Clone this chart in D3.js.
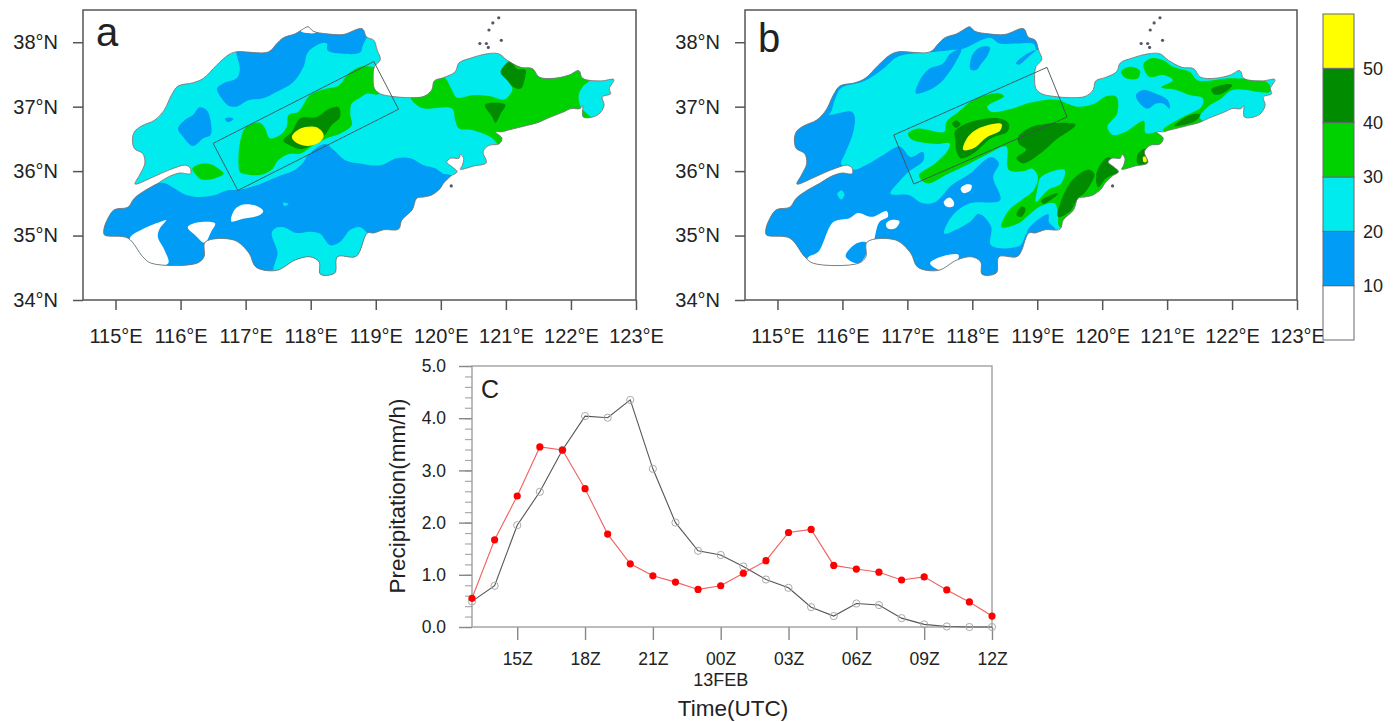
<!DOCTYPE html>
<html>
<head>
<meta charset="utf-8">
<script src="https://cdn.jsdelivr.net/npm/d3@7"></script>
<style>
    body { margin: 0; background: #fff; }
    text { font-family: "Liberation Sans", Arial, sans-serif; fill: #222; }
</style>
</head>
<body>
<svg id="chart" width="1395" height="722"></svg>
<script>
// province boundary, lon/lat
var provinceOutline = [[114.82,35.09],[114.87,35.24],[114.98,35.40],[115.19,35.44],[115.29,35.58],[115.47,35.71],[115.65,35.81],[115.81,35.91],[115.99,35.97],[116.15,35.96],[116.15,36.04],[116.08,36.09],[115.83,36.02],[115.58,35.91],[115.30,35.80],[115.37,35.94],[115.45,36.12],[115.42,36.27],[115.29,36.35],[115.26,36.48],[115.29,36.61],[115.40,36.70],[115.60,36.79],[115.75,36.95],[115.86,37.18],[115.96,37.32],[116.19,37.37],[116.35,37.44],[116.55,37.64],[116.73,37.80],[116.85,37.85],[117.35,37.85],[117.48,37.98],[117.58,38.07],[117.76,38.13],[117.89,38.21],[117.96,38.24],[118.04,38.17],[118.25,38.13],[118.50,38.12],[118.79,38.21],[118.86,38.08],[118.97,38.03],[119.02,37.88],[119.07,37.73],[118.98,37.62],[118.96,37.46],[118.98,37.28],[119.07,37.20],[119.25,37.16],[119.53,37.14],[119.74,37.16],[119.86,37.26],[119.90,37.40],[120.04,37.45],[120.22,37.54],[120.28,37.68],[120.45,37.75],[120.71,37.82],[120.89,37.82],[121.02,37.72],[121.23,37.61],[121.41,37.59],[121.51,37.46],[121.74,37.44],[121.97,37.49],[122.12,37.56],[122.18,37.44],[122.46,37.40],[122.66,37.42],[122.59,37.28],[122.61,37.20],[122.48,37.15],[122.51,37.02],[122.41,36.87],[122.19,36.84],[122.18,37.02],[122.14,36.97],[122.00,36.97],[121.89,36.92],[121.64,36.82],[121.51,36.76],[121.33,36.71],[121.05,36.64],[120.94,36.61],[120.84,36.61],[120.94,36.51],[120.89,36.42],[120.74,36.40],[120.65,36.30],[120.70,36.13],[120.51,36.08],[120.30,36.03],[120.33,36.09],[120.35,36.20],[120.30,36.26],[120.28,36.20],[120.15,36.20],[120.09,36.14],[120.17,36.07],[120.25,35.99],[120.15,35.92],[120.04,35.81],[119.99,35.73],[119.86,35.63],[119.74,35.60],[119.63,35.58],[119.56,35.40],[119.40,35.24],[119.35,35.10],[119.12,35.09],[118.97,35.04],[118.87,35.04],[118.70,34.68],[118.41,34.67],[118.37,34.42],[118.15,34.40],[118.13,34.59],[117.99,34.67],[117.76,34.62],[117.48,34.46],[117.16,34.51],[117.05,34.73],[116.82,34.93],[116.38,34.90],[116.36,34.67],[116.25,34.57],[115.55,34.57],[115.42,34.67],[115.19,34.96],[114.83,35.01]];
var islands = [[120.89,38.38],[120.80,38.30],[120.74,38.19],[120.60,37.98],[120.70,37.98],[120.73,37.92],[120.93,38.03],[120.16,35.77]];

// panel a contours
var aBlueSouth = [[114.75,35.45],[115.37,35.71],[115.73,35.82],[115.86,35.76],[116.04,35.65],[116.24,35.60],[116.50,35.62],[116.71,35.70],[116.91,35.71],[117.17,35.78],[117.48,35.91],[117.76,36.02],[117.89,36.14],[117.96,36.25],[118.22,36.42],[118.35,36.33],[118.53,36.17],[118.76,36.12],[119.07,36.09],[119.32,36.20],[119.53,36.20],[119.74,36.09],[119.92,36.04],[120.04,35.96],[120.15,35.94],[120.30,35.81],[120.30,34.36],[114.60,34.30],[114.60,35.40]];
var aCyanSouth = [[117.40,35.03],[117.45,35.11],[117.58,35.13],[117.78,35.04],[117.99,35.06],[118.14,35.03],[118.30,34.85],[118.45,34.90],[118.61,35.09],[118.76,35.13],[118.87,35.04],[119.00,34.90],[118.80,34.20],[117.43,34.20],[117.43,34.50],[117.49,34.73]];
var aBlueNorth = [[116.85,37.88],[116.91,37.57],[116.86,37.44],[116.65,37.36],[116.56,37.28],[116.63,37.13],[116.73,37.02],[116.86,37.00],[117.04,37.10],[117.27,37.13],[117.48,37.23],[117.73,37.38],[117.89,37.62],[117.96,37.85],[118.19,37.99],[118.25,37.98],[118.26,37.87],[118.50,37.82],[118.76,37.84],[118.80,37.95],[118.86,38.08],[118.90,38.40],[116.85,38.40]];
var aBlueWest = [[115.96,36.66],[116.06,36.79],[116.19,36.87],[116.29,36.99],[116.40,36.95],[116.46,36.79],[116.46,36.56],[116.35,36.51],[116.19,36.39],[116.04,36.53]];
var aBlueSpeck = [[116.68,36.81],[116.76,36.83],[116.81,36.81],[116.73,36.76]];
var aCyanSpeck = [[117.57,35.51],[117.66,35.49],[117.60,35.46]];
var aWhiteTop = [[117.85,38.17],[118.08,38.15],[117.96,38.30]];
var aWhiteMid = [[116.78,35.22],[116.83,35.40],[116.96,35.48],[117.17,35.46],[117.27,35.38],[117.22,35.32],[116.96,35.26]];
var aWhiteNotch = [[116.11,35.13],[116.24,35.20],[116.53,35.19],[116.47,35.06],[116.37,34.89],[116.22,35.01]];
var aWhiteSW = [[115.22,34.96],[115.42,35.10],[115.68,35.21],[115.78,35.24],[115.68,35.11],[115.65,34.98],[115.75,34.78],[115.81,34.57],[115.47,34.54],[115.27,34.78]];
var aGreenBox = [[116.91,35.99],[116.91,36.43],[117.01,36.69],[117.22,36.75],[117.30,36.66],[117.37,36.51],[117.53,36.56],[117.63,36.69],[117.66,36.87],[117.81,36.92],[117.99,37.18],[118.25,37.28],[118.43,37.33],[118.58,37.51],[118.76,37.62],[118.97,37.62],[119.05,37.62],[119.05,37.20],[118.86,37.20],[118.76,37.14],[118.63,37.05],[118.61,36.87],[118.63,36.71],[118.45,36.58],[118.25,36.51],[118.04,36.40],[117.84,36.27],[117.68,36.27],[117.50,36.17],[117.40,36.02],[117.22,35.94],[116.96,35.96]];
var aGreenSmall = [[116.18,36.04],[116.27,36.10],[116.45,36.11],[116.58,36.04],[116.66,35.96],[116.53,35.89],[116.32,35.87],[116.24,35.94]];
var aGreenEast = [[119.53,37.14],[119.71,36.98],[120.17,36.97],[120.22,36.79],[120.28,36.66],[120.51,36.63],[120.79,36.51],[120.89,36.40],[121.02,36.33],[122.36,36.74],[122.15,37.00],[122.12,37.18],[122.18,37.31],[122.30,37.42],[122.30,37.72],[121.07,37.98],[121.05,37.72],[120.92,37.54],[121.02,37.41],[121.10,37.28],[121.07,37.20],[120.97,37.11],[120.76,37.16],[120.51,37.18],[120.25,37.14],[120.17,37.26],[120.07,37.44],[119.97,37.51],[119.84,37.46],[119.53,37.26]];
var aDarkBox = [[117.58,36.47],[117.71,36.61],[117.84,36.82],[118.09,36.84],[118.27,36.96],[118.43,36.99],[118.45,36.84],[118.32,36.71],[118.22,36.56],[118.04,36.43],[117.86,36.34],[117.68,36.40]];
var aDarkNorth = [[120.92,37.54],[121.07,37.71],[121.17,37.59],[121.30,37.57],[121.28,37.39],[121.23,37.28],[121.12,37.30],[121.02,37.41]];
var aDarkWedge = [[120.68,37.03],[120.99,37.03],[120.92,36.89],[120.84,36.75],[120.79,36.84]];
var aYellow = [[117.71,36.53],[117.84,36.66],[118.09,36.68],[118.20,36.56],[118.14,36.45],[117.96,36.39],[117.78,36.44]];
var aBox = [[116.50,36.43],[116.88,35.70],[119.35,36.96],[118.97,37.70]];

// panel b contours
var bBlueTop = [[115.78,36.87],[115.88,37.10],[115.98,37.29],[116.32,37.39],[116.63,37.59],[116.86,37.78],[117.41,37.85],[117.68,37.88],[117.86,37.90],[118.27,38.07],[118.42,37.98],[118.68,37.98],[118.95,37.97],[118.99,37.88],[119.20,38.00],[119.20,38.40],[115.50,38.40],[115.00,37.00]];
var bBlueSouth = [[115.78,36.87],[116.14,36.92],[116.19,36.84],[116.16,36.58],[116.04,36.27],[115.98,36.11],[116.16,36.02],[116.41,36.12],[116.63,36.25],[116.88,36.38],[117.05,36.22],[117.24,36.30],[117.25,36.17],[117.02,35.99],[116.85,35.81],[116.74,35.65],[117.02,35.63],[117.24,35.50],[117.43,35.52],[117.68,35.78],[117.96,35.96],[118.29,36.22],[118.41,36.12],[118.32,35.91],[118.43,35.55],[117.96,35.50],[117.68,35.29],[117.57,35.03],[117.96,35.21],[118.10,35.34],[118.29,35.14],[118.29,34.85],[118.73,34.84],[118.84,35.03],[118.90,34.20],[114.60,34.20],[114.60,36.90]];
var bBlueBlob1 = [[117.13,37.21],[117.22,37.46],[117.34,37.59],[117.55,37.67],[117.66,37.82],[117.83,37.89],[117.75,37.70],[117.65,37.54],[117.52,37.38],[117.34,37.26]];
var bBlueBlob2 = [[117.97,37.58],[118.01,37.82],[118.14,37.93],[118.27,37.92],[118.22,37.77],[118.14,37.67],[118.06,37.57]];
var bBlueBlob3 = [[118.67,37.67],[118.84,37.82],[118.98,37.88],[118.84,37.75],[118.72,37.65]];
var bBlueEast = [[120.52,37.18],[120.63,37.26],[120.83,37.20],[121.01,37.10],[121.04,36.97],[120.94,37.05],[120.83,37.05],[120.70,36.97],[120.58,37.05]];
var bBlueBand = [[118.84,35.03],[118.91,35.16],[119.17,35.33],[119.18,35.21],[119.28,35.09],[119.12,34.93]];
var bCyanSpeck = [[115.92,35.65],[115.99,35.70],[116.03,35.63],[115.98,35.56]];
var bWhiteSW = [[115.47,34.66],[115.63,34.75],[115.86,35.21],[116.11,35.27],[116.24,35.35],[116.45,35.29],[116.68,35.38],[116.70,35.29],[116.57,35.21],[116.50,34.98],[116.47,34.78],[116.42,34.52],[115.45,34.49]];
var bBluePatch = [[116.05,34.68],[116.22,34.88],[116.37,34.89],[116.36,34.70],[116.24,34.57]];
var bWhite2 = [[116.67,35.18],[116.75,35.24],[116.88,35.22],[116.81,35.11],[116.70,35.11]];
var bWhite3 = [[117.82,35.73],[117.89,35.79],[117.99,35.78],[117.97,35.70],[117.86,35.66]];
var bWhite4 = [[117.56,35.52],[117.65,35.59],[117.72,35.51],[117.70,35.45],[117.60,35.45]];
var bWhite5 = [[117.35,34.57],[117.52,34.67],[117.79,34.70],[117.74,34.57],[117.52,34.46]];
var bGreenMain = [[117.01,36.58],[117.16,36.66],[117.57,36.61],[117.60,36.76],[117.79,36.92],[118.01,37.10],[118.40,37.21],[118.49,37.16],[118.23,37.00],[118.29,36.92],[118.62,36.97],[118.84,37.05],[119.28,37.11],[119.61,37.00],[119.89,37.05],[120.06,37.16],[120.22,37.15],[120.23,36.89],[120.08,36.69],[120.17,36.56],[120.36,36.61],[120.64,36.78],[120.67,36.59],[120.88,36.61],[121.02,36.53],[121.05,36.07],[119.95,35.03],[119.34,35.14],[119.32,35.29],[119.27,35.50],[119.04,35.45],[118.84,35.29],[118.73,35.20],[118.45,35.13],[118.56,35.39],[118.76,35.55],[118.95,35.71],[119.01,35.91],[118.92,36.04],[118.79,36.00],[118.56,36.02],[118.52,36.38],[118.23,36.26],[117.96,36.12],[117.63,35.96],[117.30,35.81],[117.18,35.94],[117.43,36.12],[117.63,36.33],[117.65,36.43],[117.46,36.42],[117.07,36.49]];
var bCyanHole = [[118.98,35.52],[119.01,35.76],[119.06,35.91],[119.42,36.02],[119.37,35.81],[119.17,35.71]];
var bGreenNorth = [[120.64,37.67],[120.76,37.75],[120.94,37.72],[121.09,37.62],[121.35,37.54],[121.47,37.41],[122.01,37.44],[122.55,37.37],[122.59,37.23],[122.01,37.26],[121.81,37.11],[121.63,37.00],[121.50,36.84],[121.55,36.76],[120.99,36.58],[120.94,36.64],[121.24,36.84],[121.53,37.00],[121.55,37.13],[121.35,37.18],[121.14,37.26],[120.91,37.30],[121.09,37.41],[120.94,37.49],[120.73,37.46],[120.65,37.57]];
var bGreenSmall = [[120.29,37.54],[120.42,37.62],[120.58,37.56],[120.55,37.44],[120.37,37.44]];
var bDarkRing = [[117.73,36.61],[117.85,36.71],[118.07,36.79],[118.40,36.82],[118.56,36.74],[118.54,36.61],[118.29,36.51],[118.01,36.27],[117.82,36.20],[117.75,36.33],[117.74,36.48]];
var bDarkDot = [[117.69,36.73],[117.75,36.79],[117.82,36.73],[117.75,36.67]];
var bDarkBig = [[118.70,36.52],[118.92,36.69],[119.59,36.72],[119.28,36.48],[119.03,36.26],[118.79,36.12],[118.68,36.20],[118.83,36.33],[118.72,36.42]];
var bDarkCoast = [[119.32,35.29],[119.50,35.81],[119.78,36.02],[119.88,35.96],[119.83,35.81],[119.73,35.66],[119.63,35.58],[119.50,35.37]];
var bDarkBay = [[119.91,35.96],[120.09,36.22],[120.27,36.01],[120.06,35.89],[119.94,35.75]];
var bDarkSmall1 = [[119.06,35.54],[119.27,35.65],[119.32,35.65],[119.19,35.54],[119.10,35.49]];
var bDarkSmall2 = [[118.68,35.32],[118.76,35.45],[118.82,35.42],[118.76,35.29]];
var bDarkEast1 = [[121.68,37.27],[121.96,37.35],[122.00,37.33],[121.86,37.21],[121.73,37.19]];
var bDarkEast2 = [[121.11,36.70],[121.35,36.87],[121.51,36.88],[121.45,36.79],[121.24,36.71]];
var bDarkCape = [[120.55,36.27],[120.68,36.35],[120.70,36.12],[120.55,36.11]];
var bYellow = [[117.86,36.33],[117.89,36.46],[118.01,36.61],[118.23,36.71],[118.45,36.73],[118.43,36.63],[118.23,36.53],[118.01,36.35]];
var bYellowCape = [[120.63,36.22],[120.68,36.22],[120.68,36.14],[120.64,36.14]];
var bBox = [[116.79,36.56],[117.10,35.80],[119.46,36.84],[119.15,37.61]];

// paint order, [rain value, ring]
var layersA = [[15,aBlueSouth],[25,aCyanSouth],[15,aBlueNorth],[15,aBlueWest],[15,aBlueSpeck],[25,aCyanSpeck],[5,aWhiteTop],[5,aWhiteMid],[5,aWhiteNotch],[5,aWhiteSW],[35,aGreenBox],[35,aGreenSmall],[35,aGreenEast],[45,aDarkBox],[45,aDarkNorth],[45,aDarkWedge],[55,aYellow]];
var layersB = [[15,bBlueTop],[15,bBlueSouth],[15,bBlueBlob1],[15,bBlueBlob2],[15,bBlueBlob3],[15,bBlueEast],[15,bBlueBand],[25,bCyanSpeck],[5,bWhiteSW],[15,bBluePatch],[5,bWhite2],[5,bWhite3],[5,bWhite4],[5,bWhite5],[35,bGreenMain],[25,bCyanHole],[35,bGreenNorth],[35,bGreenSmall],[45,bDarkRing],[45,bDarkDot],[45,bDarkBig],[45,bDarkCoast],[45,bDarkBay],[45,bDarkSmall1],[45,bDarkSmall2],[45,bDarkEast1],[45,bDarkEast2],[45,bDarkCape],[55,bYellow],[55,bYellowCape]];

var lonTicks = [115, 116, 117, 118, 119, 120, 121, 122, 123];
var latTicks = [34, 35, 36, 37, 38];
var rainLevels = [10, 20, 30, 40, 50];
var rainColors = ["#ffffff", "#009cf6", "#00ebee", "#00d200", "#008b00", "#ffff00"];

// panel c
var hours = ["13Z", "14Z", "15Z", "16Z", "17Z", "18Z", "19Z", "20Z", "21Z", "22Z", "23Z", "00Z", "01Z", "02Z", "03Z", "04Z", "05Z", "06Z", "07Z", "08Z", "09Z", "10Z", "11Z", "12Z"];
var hourTicks = ["15Z", "18Z", "21Z", "00Z", "03Z", "06Z", "09Z", "12Z"];
var obsRain = [0.49, 0.79, 1.95, 2.59, 3.39, 4.04, 4.01, 4.35, 3.03, 2.00, 1.46, 1.38, 1.16, 0.91, 0.75, 0.38, 0.21, 0.45, 0.42, 0.17, 0.05, 0.01, 0.00, 0.00];
var modelRain = [0.55, 1.67, 2.51, 3.45, 3.39, 2.65, 1.78, 1.21, 0.98, 0.86, 0.72, 0.79, 1.03, 1.27, 1.81, 1.87, 1.18, 1.11, 1.05, 0.90, 0.96, 0.71, 0.48, 0.21];

var svg = d3.select("#chart");
var color = d3.scaleThreshold().domain(rainLevels).range(rainColors);

function drawMap(id, left, right, letter, letterY, layers, box) {
    var top = 10, bottom = 300;
    var x = d3.scaleLinear().domain([114.5, 123]).range([left, right]);
    var y = d3.scaleLinear().domain([34, 38.5]).range([bottom, top]);
    var g = svg.append("g");

    var straight = d3.line()
        .x(function (d) { return x(d[0]); })
        .y(function (d) { return y(d[1]); })
        .curve(d3.curveLinearClosed);
    var smooth = d3.line()
        .x(function (d) { return x(d[0]); })
        .y(function (d) { return y(d[1]); })
        .curve(d3.curveCatmullRomClosed.alpha(0.5));

    g.append("clipPath").attr("id", id)
        .append("path").attr("d", smooth(provinceOutline));

    var land = g.append("g").attr("clip-path", "url(#" + id + ")");
    land.append("path").attr("d", smooth(provinceOutline)).attr("fill", color(25));
    land.selectAll(".layer")
        .data(layers)
        .enter().append("path")
        .attr("class", "layer")
        .attr("d", function (d) { return smooth(d[1]); })
        .attr("fill", function (d) { return color(d[0]); });

    g.append("path").attr("d", smooth(provinceOutline))
        .attr("fill", "none").attr("stroke", "#777").attr("stroke-width", 0.9);

    g.selectAll(".island")
        .data(islands)
        .enter().append("circle")
        .attr("class", "island")
        .attr("cx", function (d) { return x(d[0]); })
        .attr("cy", function (d) { return y(d[1]); })
        .attr("r", 1.6)
        .attr("fill", "#556");

    g.append("path").attr("d", straight(box))
        .attr("fill", "none").attr("stroke", "#3f4f55").attr("stroke-width", 0.9);

    g.append("rect")
        .attr("x", left).attr("y", top)
        .attr("width", right - left).attr("height", bottom - top)
        .attr("fill", "none").attr("stroke", "#555").attr("stroke-width", 1.5);

    var xAxis = g.append("g")
        .attr("transform", "translate(0," + bottom + ")")
        .call(d3.axisBottom(x).tickValues(lonTicks).tickSize(10).tickSizeOuter(0).tickPadding(19)
            .tickFormat(function (d) { return d + "°E"; }));
    var yAxis = g.append("g")
        .attr("transform", "translate(" + left + ",0)")
        .call(d3.axisLeft(y).tickValues(latTicks).tickSize(10).tickSizeOuter(0).tickPadding(15)
            .tickFormat(function (d) { return d + "°N"; }));
    [xAxis, yAxis].forEach(function (a) {
        a.selectAll("text").style("font-size", "20px").style("font-family", "Liberation Sans");
        a.selectAll("line").attr("stroke", "#555").attr("stroke-width", 1.5);
        a.select(".domain").remove();
    });

    g.append("text")
        .attr("x", left + 13).attr("y", letterY)
        .style("font-size", "40px")
        .text(letter);
}

drawMap("clipA", 83, 636, "a", 46, layersA, aBox);
drawMap("clipB", 745, 1297, "b", 52, layersB, bBox);

// label bar
(function () {
    var bins = [0].concat(rainLevels);
    var y = d3.scaleLinear().domain([0, 60]).range([340, 14]);
    var g = svg.append("g");

    g.selectAll(".bin")
        .data(bins)
        .enter().append("rect")
        .attr("class", "bin")
        .attr("x", 1323)
        .attr("y", function (d) { return y(d + 10); })
        .attr("width", 31)
        .attr("height", function (d) { return y(d) - y(d + 10); })
        .attr("fill", function (d) { return color(d + 5); })
        .attr("stroke", "#667")
        .attr("stroke-width", 1);

    g.selectAll(".binLabel")
        .data(rainLevels)
        .enter().append("text")
        .attr("class", "binLabel")
        .attr("x", 1363)
        .attr("y", function (d) { return y(d); })
        .attr("dy", "0.36em")
        .style("font-size", "18px")
        .text(function (d) { return d; });
})();

// time series
(function () {
    var left = 472, right = 992, top = 366, bottom = 627;
    var x = d3.scalePoint().domain(hours).range([left, right]);
    var y = d3.scaleLinear().domain([0, 5]).range([bottom, top]);
    var g = svg.append("g");
    var axisGray = "#888";

    g.append("g")
        .attr("transform", "translate(" + left + ",0)")
        .call(d3.axisLeft(y).ticks(25).tickSize(7).tickSizeOuter(0).tickFormat(""))
        .call(function (a) {
            a.select(".domain").remove();
            a.selectAll("line").attr("stroke", "#aaa").attr("stroke-width", 1.2);
        });

    var yAxis = g.append("g")
        .attr("transform", "translate(" + left + ",0)")
        .call(d3.axisLeft(y).ticks(5).tickSize(13).tickSizeOuter(0).tickPadding(13).tickFormat(d3.format(".1f")));
    var xAxis = g.append("g")
        .attr("transform", "translate(0," + bottom + ")")
        .call(d3.axisBottom(x).tickValues(hourTicks).tickSize(13).tickSizeOuter(0).tickPadding(13));
    [xAxis, yAxis].forEach(function (a) {
        a.selectAll("text").style("font-size", "17.5px").style("font-family", "Liberation Sans");
        a.selectAll("line").attr("stroke", axisGray).attr("stroke-width", 1.4);
        a.select(".domain").remove();
    });

    g.append("rect")
        .attr("x", left).attr("y", top)
        .attr("width", right - left).attr("height", bottom - top)
        .attr("fill", "none").attr("stroke", "#999").attr("stroke-width", 1.3);

    var line = d3.line()
        .x(function (d, i) { return x(hours[i]); })
        .y(function (d) { return y(d); });

    g.append("path").attr("d", line(obsRain))
        .attr("fill", "none").attr("stroke", "#555").attr("stroke-width", 1.1);
    g.selectAll(".obs")
        .data(obsRain)
        .enter().append("circle")
        .attr("class", "obs")
        .attr("cx", function (d, i) { return x(hours[i]); })
        .attr("cy", function (d) { return y(d); })
        .attr("r", 3.6)
        .attr("fill", "none")
        .attr("stroke", "#aaa");

    g.append("path").attr("d", line(modelRain))
        .attr("fill", "none").attr("stroke", "#f46060").attr("stroke-width", 1.1);
    g.selectAll(".model")
        .data(modelRain)
        .enter().append("circle")
        .attr("class", "model")
        .attr("cx", function (d, i) { return x(hours[i]); })
        .attr("cy", function (d) { return y(d); })
        .attr("r", 3.6)
        .attr("fill", "#f00");

    g.append("text").attr("x", 481).attr("y", 398).style("font-size", "25px").text("C");
    g.append("text").attr("x", x("00Z")).attr("y", 686)
        .attr("text-anchor", "middle").style("font-size", "18px").text("13FEB");
    g.append("text").attr("x", 733).attr("y", 716)
        .attr("text-anchor", "middle").style("font-size", "22.5px").text("Time(UTC)");
    g.append("text")
        .attr("transform", "translate(405,496) rotate(-90)")
        .attr("text-anchor", "middle")
        .style("font-size", "22.5px")
        .text("Precipitation(mm/h)");
})();
</script>
</body>
</html>
